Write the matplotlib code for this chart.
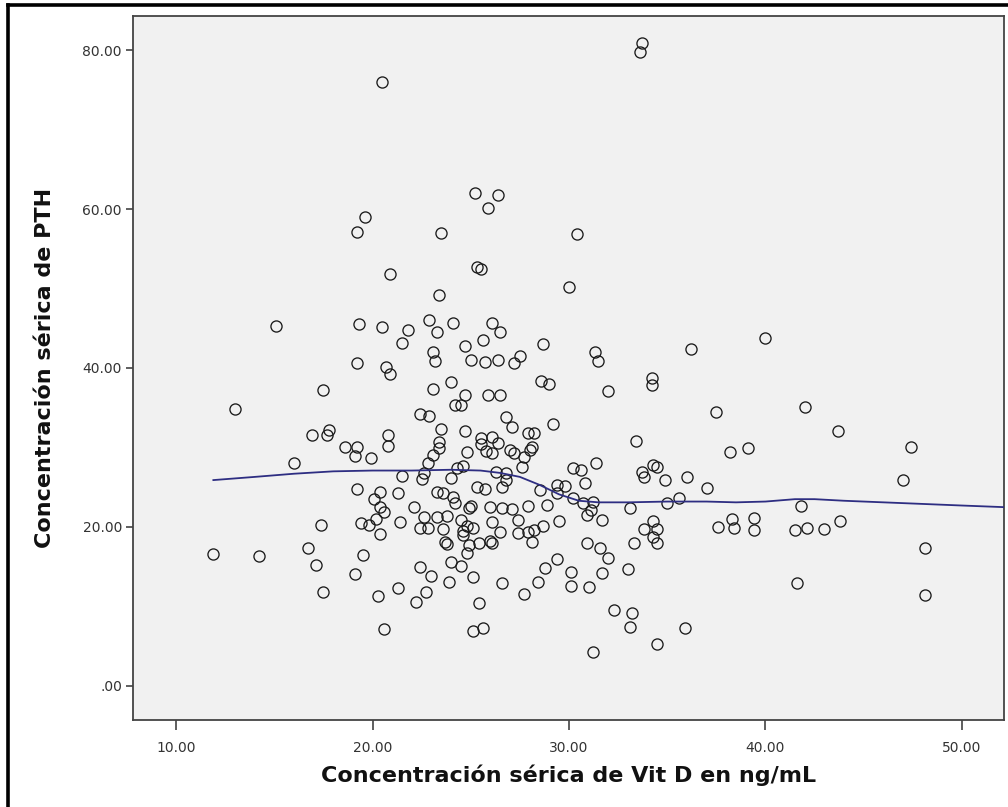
import matplotlib
matplotlib.use("Agg")
import matplotlib.pyplot as plt
from matplotlib.lines import Line2D

# ---- data ----
vit_d = [
    11.9, 13.0, 14.2, 15.1, 16.0, 16.7, 16.9, 17.1, 17.4, 17.5, 17.5, 17.7, 17.8,
    25.2, 26.4, 25.9, 19.6, 19.2, 23.5, 20.9, 25.3, 25.5, 23.4, 19.3, 20.5, 21.8,
    21.5, 22.9, 23.3, 24.1, 26.1, 26.5, 25.6, 24.7, 23.1, 23.2, 25.0, 25.7, 26.4,
    27.2, 27.5, 19.2, 20.7, 20.9, 24.0, 23.1, 24.7, 24.2, 24.5, 25.9, 26.5, 22.4,
    22.9, 26.8, 27.1, 20.8, 23.5, 24.7, 27.9, 18.6, 19.2, 20.8, 23.4, 23.4, 25.5,
    26.1, 25.5, 26.4,
    19.1, 19.9, 23.1, 22.8, 24.8, 25.8, 26.1, 27.0, 27.2, 27.7, 27.6, 21.5, 22.6,
    22.5, 24.3, 24.6, 24.0, 26.3, 26.8, 26.6, 26.8, 19.2, 20.4, 20.1, 21.3, 20.4,
    20.6, 20.2, 19.4, 19.8, 21.4, 22.1, 23.3, 23.6, 24.1, 24.2, 25.3, 25.7, 24.9,
    25.0, 26.0, 26.6, 27.1, 27.9, 22.6, 22.4, 22.8, 23.3, 23.8, 23.6, 24.5, 24.8,
    24.6, 25.1, 24.6, 26.1, 26.5, 27.4, 27.4, 27.9, 20.4, 23.7, 23.8, 24.9, 25.4,
    26.0, 26.1, 24.8, 19.5, 24.0, 24.5, 22.4, 19.1, 23.0, 23.9, 25.1, 26.6, 21.3,
    20.3, 22.7, 22.2, 27.7, 25.4, 20.6, 25.1, 25.6,
    30.4, 30.0, 28.7, 31.3, 31.5, 36.2, 28.6, 29.0, 32.0, 34.2, 34.2, 37.5, 29.2,
    28.2, 33.4, 28.1,
    28.0, 30.2, 30.6, 31.4, 30.8, 29.4, 29.8, 28.5, 29.4, 30.2, 30.7, 31.2, 31.1,
    30.9, 33.7, 33.8, 34.3, 34.5, 34.9, 36.0, 37.0, 35.6, 35.0, 33.1, 28.9, 29.5,
    28.7, 28.2, 28.1, 31.7, 34.3, 33.8, 34.5, 34.3, 34.5, 33.3, 30.9, 31.6, 32.0,
    29.4, 28.8, 30.1, 31.7, 33.0, 28.4, 30.1, 31.0, 32.3, 33.2, 33.1, 35.9, 34.5,
    31.2, 37.6,
    20.5, 33.7, 33.6,
    38.2, 38.3, 38.4, 39.1, 39.4, 39.4, 40.0, 41.6, 41.5, 41.8, 42.0, 42.1, 43.0,
    43.7, 43.8, 47.0, 47.4, 48.1, 48.1,
]

pth = [
    16.6, 34.8, 16.4, 45.3, 28.1, 17.4, 31.6, 15.2, 20.3, 37.2, 11.8, 31.6, 32.2,
    62.0, 61.8, 60.1, 59.0, 57.1, 57.0, 51.8, 52.7, 52.5, 49.2, 45.5, 45.2, 44.8,
    43.1, 46.0, 44.5, 45.7, 45.7, 44.5, 43.5, 42.8, 42.0, 40.9, 41.0, 40.8, 41.0,
    40.6, 41.5, 40.6, 40.1, 39.2, 38.2, 37.4, 36.6, 35.3, 35.3, 36.6, 36.6, 34.2,
    34.0, 33.8, 32.6, 31.6, 32.3, 32.1, 31.8, 30.1, 30.1, 30.2, 30.7, 29.9, 31.2,
    31.3, 30.4, 30.6,
    28.9, 28.7, 29.1, 28.1, 29.4, 29.6, 29.3, 29.7, 29.3, 28.8, 27.5, 26.4, 26.8,
    26.0, 27.4, 27.7, 26.2, 26.9, 26.8, 25.0, 25.9, 24.8, 24.4, 23.5, 24.3, 22.5,
    21.9, 21.0, 20.5, 20.3, 20.6, 22.5, 24.4, 24.3, 23.8, 23.0, 25.0, 24.8, 22.4,
    22.6, 22.5, 22.4, 22.3, 22.6, 21.3, 19.9, 19.9, 21.3, 21.4, 19.7, 20.9, 20.1,
    19.5, 19.9, 19.0, 20.6, 19.4, 20.9, 19.2, 19.4, 19.1, 18.1, 17.9, 17.7, 18.0,
    18.2, 18.0, 16.7, 16.5, 15.6, 15.1, 15.0, 14.1, 13.8, 13.1, 13.7, 13.0, 12.3,
    11.3, 11.8, 10.6, 11.6, 10.4, 7.2, 6.9, 7.3,
    56.9, 50.2, 43.0, 42.0, 40.9, 42.4, 38.4, 38.0, 37.1, 38.7, 37.9, 34.5, 33.0,
    31.8, 30.8, 30.1,
    29.7, 27.4, 27.2, 28.1, 25.5, 25.3, 25.2, 24.7, 24.3, 23.6, 23.0, 23.1, 22.1,
    21.5, 26.9, 26.3, 27.8, 27.5, 25.9, 26.3, 24.9, 23.6, 23.0, 22.4, 22.8, 20.8,
    20.1, 19.6, 18.1, 20.9, 20.8, 19.7, 19.7, 18.7, 18.0, 18.0, 18.0, 17.4, 16.1,
    16.0, 14.8, 14.3, 14.2, 14.7, 13.1, 12.6, 12.5, 9.6, 9.2, 7.4, 7.3, 5.3,
    4.3, 20.0,
    76.0, 80.9, 79.7,
    29.4, 21.0, 19.9, 29.9, 21.1, 19.6, 43.8, 12.9, 19.6, 22.6, 35.1, 19.9, 19.7,
    32.1, 20.8, 25.9, 30.1, 17.4, 11.4,
]

# loess fit line
loess_x = [11.9, 14.0, 16.0, 18.0, 20.0, 22.0, 24.0, 25.5, 26.5, 27.5, 28.5, 29.5,
           30.5, 31.5, 33.0, 35.0, 37.0, 38.5, 40.0, 41.5, 42.5, 44.0, 46.0, 48.0,
           50.0, 52.1]
loess_y = [25.9, 26.3, 26.7, 27.0, 27.1, 27.1, 27.2, 27.1, 26.8, 26.3, 25.3, 24.1,
           23.3, 23.1, 23.1, 23.2, 23.2, 23.1, 23.2, 23.5, 23.5, 23.3, 23.1, 22.9,
           22.7, 22.5]

x_ticks = [10, 20, 30, 40, 50]
x_tick_labels = ["10.00", "20.00", "30.00", "40.00", "50.00"]
y_ticks = [0, 20, 40, 60, 80]
y_tick_labels = [".00", "20.00", "40.00", "60.00", "80.00"]

x_label = "Concentración sérica de Vit D en ng/mL"
y_label = "Concentración sérica de PTH"

# ---- figure ----
fig = plt.figure(figsize=(10.08, 8.07), dpi=100, facecolor="white")
ax = fig.add_axes([133 / 1008, 1 - 720 / 807, (1004 - 133) / 1008, (720 - 16) / 807])
ax.set_facecolor("#f1f1f1")

ax.plot(vit_d, pth, linestyle="none", marker="o", markersize=8,
        markerfacecolor="none", markeredgecolor="#1a1a1a", markeredgewidth=0.95,
        zorder=3)
ax.plot(loess_x, loess_y, color="#2e2e82", linewidth=1.3, zorder=4)

ax.set_xlim(7.81, 52.14)
ax.set_ylim(-4.28, 84.28)
ax.set_xticks(x_ticks)
ax.set_xticklabels(x_tick_labels)
ax.set_yticks(y_ticks)
ax.set_yticklabels(y_tick_labels)

for s in ax.spines.values():
    s.set_color("#444444")
    s.set_linewidth(1.3)

ax.tick_params(axis="both", direction="out", colors="#333333", labelsize=10,
               length=5, width=1.1, pad=3)
ax.tick_params(axis="x", length=7, pad=8)

ax.set_xlabel(x_label, fontsize=16, fontweight="bold", color="#111111", labelpad=7)
ax.set_ylabel(y_label, fontsize=16, fontweight="bold", color="#111111", labelpad=20)

# outer black frame (top and left edges visible in the reference)
fig.add_artist(Line2D([8 / 1008, 1.0], [1 - 5 / 807, 1 - 5 / 807],
                      transform=fig.transFigure, color="black", linewidth=2.6))
fig.add_artist(Line2D([8 / 1008, 8 / 1008], [0.0, 1 - 5 / 807],
                      transform=fig.transFigure, color="black", linewidth=2.6))

fig.savefig("out.png", dpi=100, facecolor="white")
